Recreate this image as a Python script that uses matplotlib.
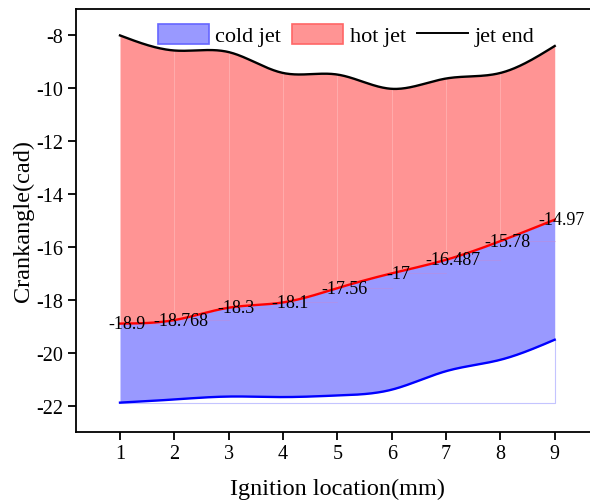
import matplotlib
matplotlib.use('Agg')
import matplotlib.pyplot as plt
import numpy as np
from matplotlib.patches import Patch
from matplotlib.lines import Line2D

# ignition location (mm)
location = [1, 2, 3, 4, 5, 6, 7, 8, 9]
# crank angles (cad)
cold_start = [-21.89, -21.77, -21.66, -21.68, -21.62, -21.4, -20.7, -20.27, -19.51]
hot_start = [-18.9, -18.768, -18.3, -18.1, -17.56, -17, -16.487, -15.78, -14.97]
jet_end = [-8.0, -8.57, -8.63, -9.42, -9.48, -10.02, -9.63, -9.42, -8.4]
hot_labels = ['-18.9', '-18.768', '-18.3', '-18.1', '-17.56', '-17', '-16.487', '-15.78', '-14.97']


def spline(x, y, n=400):
    # natural cubic spline, only used to draw smooth curves through the points
    x = np.asarray(x, float)
    y = np.asarray(y, float)
    k = len(x)
    h = np.diff(x)
    A = np.zeros((k, k))
    b = np.zeros(k)
    A[0, 0] = A[-1, -1] = 1
    for i in range(1, k - 1):
        A[i, i - 1] = h[i - 1]
        A[i, i] = 2 * (h[i - 1] + h[i])
        A[i, i + 1] = h[i]
        b[i] = 6 * ((y[i + 1] - y[i]) / h[i] - (y[i] - y[i - 1]) / h[i - 1])
    M = np.linalg.solve(A, b)
    xs = np.linspace(x[0], x[-1], n)
    idx = np.clip(np.searchsorted(x, xs) - 1, 0, k - 2)
    x0, x1 = x[idx], x[idx + 1]
    hh = x1 - x0
    t0 = x1 - xs
    t1 = xs - x0
    ys = (M[idx] * t0 ** 3 + M[idx + 1] * t1 ** 3) / (6 * hh) \
        + (y[idx] / hh - M[idx] * hh / 6) * t0 \
        + (y[idx + 1] / hh - M[idx + 1] * hh / 6) * t1
    return xs, ys


plt.rcParams['font.family'] = ['Liberation Serif', 'DejaVu Serif']
plt.rcParams['font.size'] = 14
plt.rcParams['axes.unicode_minus'] = False

fig = plt.figure(figsize=(5.9, 5.02), dpi=100)
ax = fig.add_axes([0.1288, 0.1375, 0.886, 0.8426])

xs, cold_s = spline(location, cold_start)
_, hot_s = spline(location, hot_start)
_, end_s = spline(location, jet_end)

red_fill = '#ff9494'
blue_fill = '#9999ff'

ax.fill_between(xs, cold_s, hot_s, color=blue_fill, lw=0, zorder=1)
ax.fill_between(xs, hot_s, end_s, color=red_fill, lw=0, zorder=1)

# thin outline of the cold area baseline
base = min(cold_start)
ax.plot([location[0], location[-1], location[-1]], [base, base, cold_start[-1]],
        color='#c4c4ff', lw=0.8, zorder=1)

# faint dividers in the filled areas
for i in range(1, len(location) - 1):
    ax.plot([location[i], location[i]], [hot_start[i], jet_end[i]], color='#ffb0b0', lw=0.6, zorder=1)
for i in range(len(location) - 1):
    ax.plot([location[i], location[i + 1]], [hot_start[i], hot_start[i]], color='#c88ad0', lw=0.5, alpha=0.6, zorder=1)

ax.plot(xs, cold_s, color='#0000ff', lw=1.7, zorder=3)
ax.plot(xs, hot_s, color='#ff0000', lw=1.7, zorder=3)
ax.plot(xs, end_s, color='black', lw=1.7, zorder=3)

for x, y, s in zip(location, hot_start, hot_labels):
    ax.annotate(s, (x, y), xytext=(5, 0), textcoords='offset points',
                ha='center', va='center', fontsize=13, zorder=4)

ax.set_xlim(0.19, 9.81)
ax.set_ylim(-23.0, -7.0)
ax.set_xticks(location)
ax.set_yticks(np.arange(-22, -7, 2))
ax.tick_params(direction='out', length=6, width=1.3, labelsize=14.5, pad=3)
for sp in ['left', 'bottom', 'top']:
    ax.spines[sp].set_linewidth(1.3)
ax.spines['right'].set_visible(False)

ax.set_xlabel('Ignition location(mm)', fontsize=17.5, labelpad=10)
ax.set_ylabel('Crankangle(cad)', fontsize=17.5, labelpad=2)

handles = [Patch(facecolor=blue_fill, edgecolor='#6666ff', lw=1.2),
           Patch(facecolor=red_fill, edgecolor='#ff6666', lw=1.2),
           Line2D([], [], color='black', lw=1.4)]
ax.legend(handles, ['cold jet', 'hot jet', 'jet end'], loc='upper center',
          bbox_to_anchor=(0.517, 1.012), ncol=3, frameon=False, fontsize=16,
          handlelength=2.3, handleheight=1.0, columnspacing=0.5, handletextpad=0.3)

plt.savefig('out.png', dpi=100)
